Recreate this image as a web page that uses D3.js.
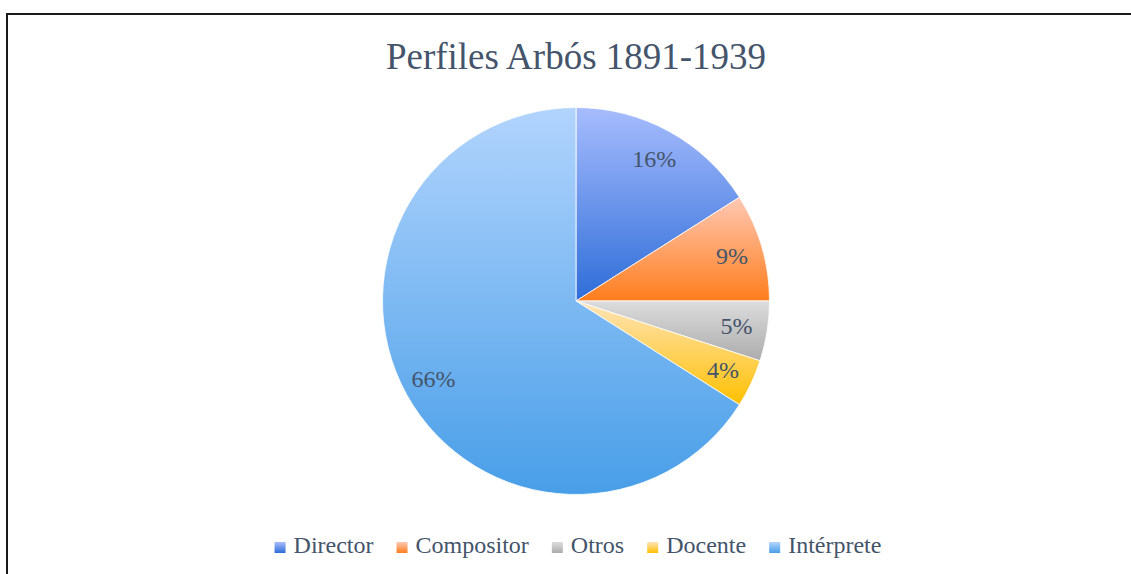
<!DOCTYPE html>
<html>
<head>
<meta charset="utf-8">
<script src="https://cdn.jsdelivr.net/npm/d3@7"></script>
<style>
  html, body { margin: 0; padding: 0; background: #fff; }
  svg { display: block; }
</style>
</head>
<body>
<div id="chart"></div>
<script>
// data
const categories = ['Director', 'Compositor', 'Otros', 'Docente', 'Intérprete'];
const values = [16, 9, 5, 4, 66];
const chartTitle = 'Perfiles Arbós 1891-1939';

// gradient colours (light top -> dark bottom)
const lightColors = ['#a7bcfd', '#ffc8b4', '#dcdcdc', '#ffe4ba', '#b2d4fd'];
const darkColors = ['#2e6dd8', '#ff7d1c', '#acacac', '#ffc000', '#489ee8'];

const width = 1131;
const height = 574;
const textColor = '#44546a';
const serif = '"Liberation Serif", "Times New Roman", serif';

const svg = d3.select('#chart')
    .append('svg')
    .attr('width', width)
    .attr('height', height);

const defs = svg.append('defs');
categories.forEach((c, i) => {
    const g = defs.append('linearGradient')
        .attr('id', 'grad' + i)
        .attr('x1', 0).attr('y1', 0)
        .attr('x2', 0).attr('y2', 1);
    g.append('stop').attr('offset', '0%').attr('stop-color', lightColors[i]);
    g.append('stop').attr('offset', '100%').attr('stop-color', darkColors[i]);
});

// chart frame (right and bottom edges fall outside the picture)
svg.append('rect')
    .attr('x', 7)
    .attr('y', 14)
    .attr('width', 1200)
    .attr('height', 700)
    .attr('fill', 'none')
    .attr('stroke', '#1a1a1a')
    .attr('stroke-width', 2);

svg.append('text')
    .attr('x', 576)
    .attr('y', 69)
    .attr('text-anchor', 'middle')
    .attr('fill', textColor)
    .style('font-family', serif)
    .style('font-size', '37px')
    .text(chartTitle);

const cx = 576, cy = 301, radius = 193.5;

const pie = d3.pie().sort(null).value(d => d.value);
const arcs = pie(categories.map((c, i) => ({ name: c, value: values[i], i })));
const arc = d3.arc().innerRadius(0).outerRadius(radius);
const labelArc = d3.arc().innerRadius(radius * 0.84).outerRadius(radius * 0.84);
const total = d3.sum(values);

const chart = svg.append('g')
    .attr('transform', `translate(${cx}, ${cy})`);

chart.selectAll('path.slice')
    .data(arcs)
    .enter()
    .append('path')
    .classed('slice', true)
    .attr('d', arc)
    .attr('fill', d => `url(#grad${d.data.i})`)
    .attr('stroke', '#ffffff')
    .attr('stroke-width', 1)
    .attr('stroke-opacity', 0.8);

chart.selectAll('text.label')
    .data(arcs)
    .enter()
    .append('text')
    .classed('label', true)
    .attr('transform', d => `translate(${labelArc.centroid(d)})`)
    .attr('text-anchor', 'middle')
    .attr('dominant-baseline', 'central')
    .attr('fill', textColor)
    .style('font-family', serif)
    .style('font-size', '24px')
    .text(d => Math.round(d.data.value / total * 100) + '%');

// legend: square + text, laid out from measured text widths, centred
const legend = svg.append('g').classed('legend', true);
const items = legend.selectAll('g.item')
    .data(categories)
    .enter()
    .append('g')
    .classed('item', true);

items.append('rect')
    .attr('x', 0)
    .attr('y', -11)
    .attr('width', 11)
    .attr('height', 11)
    .attr('fill', (d, i) => `url(#grad${i})`);

items.append('text')
    .attr('x', 19)
    .attr('y', 0)
    .attr('fill', textColor)
    .style('font-family', serif)
    .style('font-size', '24px')
    .text(d => d);

const itemGap = 23;
const widths = [];
items.each(function () {
    widths.push(19 + d3.select(this).select('text').node().getComputedTextLength());
});
const totalW = d3.sum(widths) + itemGap * (widths.length - 1);
let xPos = 578 - totalW / 2;
items.attr('transform', (d, i) => {
    const t = `translate(${xPos}, 553)`;
    xPos += widths[i] + itemGap;
    return t;
});
</script>
</body>
</html>
